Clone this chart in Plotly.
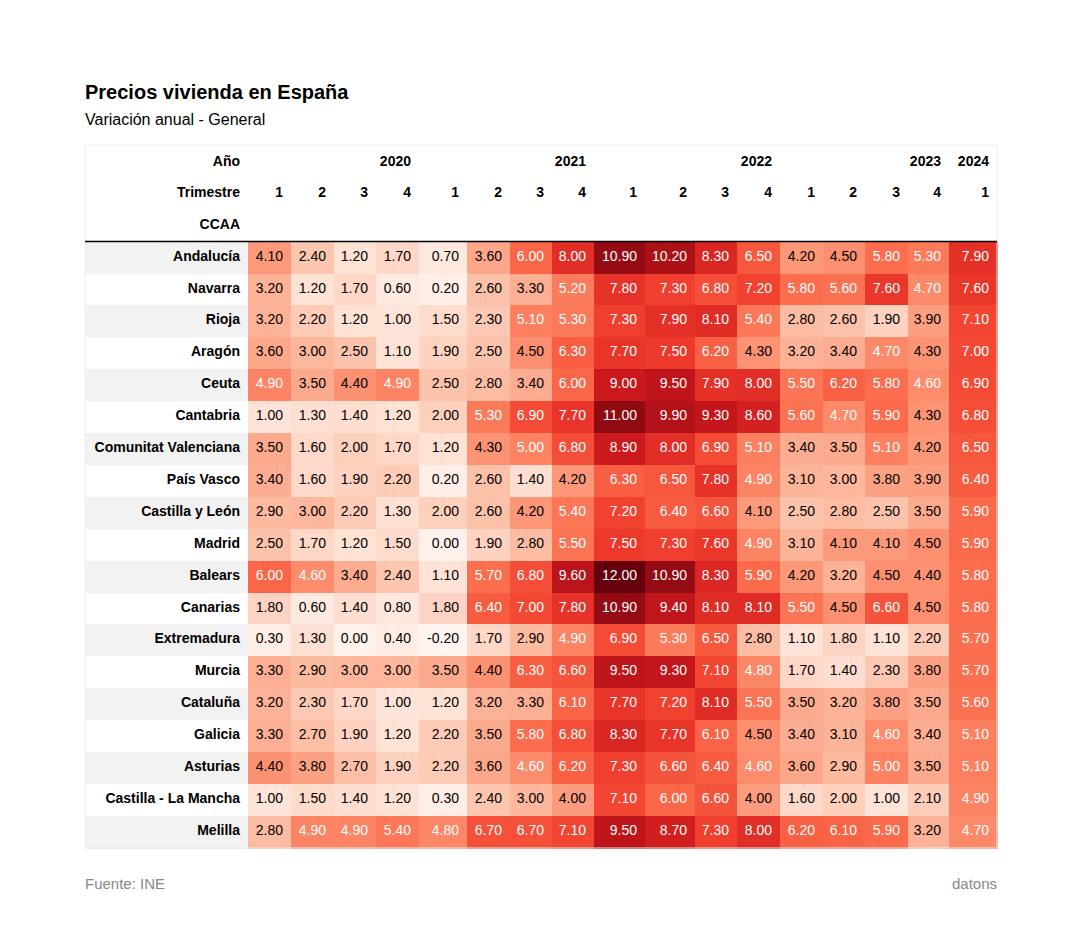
"""
Tabla de calor: variación anual de los precios de la vivienda por CCAA (INE).
"""

import plotly.graph_objects as go
from plotly.colors import sample_colorscale, unlabel_rgb

# Datos
anios = ["2020", "2021", "2022", "2023", "2024"]
trimestres = [1, 2, 3, 4, 1, 2, 3, 4, 1, 2, 3, 4, 1, 2, 3, 4, 1]
anio_col = ["2020"] * 4 + ["2021"] * 4 + ["2022"] * 4 + ["2023"] * 4 + ["2024"]

ccaa = [
    "Andalucía", "Navarra", "Rioja", "Aragón", "Ceuta", "Cantabria",
    "Comunitat Valenciana", "País Vasco", "Castilla y León", "Madrid",
    "Balears", "Canarias", "Extremadura", "Murcia", "Cataluña", "Galicia",
    "Asturias", "Castilla - La Mancha", "Melilla",
]

variacion = [
    [4.1, 2.4, 1.2, 1.7, 0.7, 3.6, 6.0, 8.0, 10.9, 10.2, 8.3, 6.5, 4.2, 4.5, 5.8, 5.3, 7.9],
    [3.2, 1.2, 1.7, 0.6, 0.2, 2.6, 3.3, 5.2, 7.8, 7.3, 6.8, 7.2, 5.8, 5.6, 7.6, 4.7, 7.6],
    [3.2, 2.2, 1.2, 1.0, 1.5, 2.3, 5.1, 5.3, 7.3, 7.9, 8.1, 5.4, 2.8, 2.6, 1.9, 3.9, 7.1],
    [3.6, 3.0, 2.5, 1.1, 1.9, 2.5, 4.5, 6.3, 7.7, 7.5, 6.2, 4.3, 3.2, 3.4, 4.7, 4.3, 7.0],
    [4.9, 3.5, 4.4, 4.9, 2.5, 2.8, 3.4, 6.0, 9.0, 9.5, 7.9, 8.0, 5.5, 6.2, 5.8, 4.6, 6.9],
    [1.0, 1.3, 1.4, 1.2, 2.0, 5.3, 6.9, 7.7, 11.0, 9.9, 9.3, 8.6, 5.6, 4.7, 5.9, 4.3, 6.8],
    [3.5, 1.6, 2.0, 1.7, 1.2, 4.3, 5.0, 6.8, 8.9, 8.0, 6.9, 5.1, 3.4, 3.5, 5.1, 4.2, 6.5],
    [3.4, 1.6, 1.9, 2.2, 0.2, 2.6, 1.4, 4.2, 6.3, 6.5, 7.8, 4.9, 3.1, 3.0, 3.8, 3.9, 6.4],
    [2.9, 3.0, 2.2, 1.3, 2.0, 2.6, 4.2, 5.4, 7.2, 6.4, 6.6, 4.1, 2.5, 2.8, 2.5, 3.5, 5.9],
    [2.5, 1.7, 1.2, 1.5, 0.0, 1.9, 2.8, 5.5, 7.5, 7.3, 7.6, 4.9, 3.1, 4.1, 4.1, 4.5, 5.9],
    [6.0, 4.6, 3.4, 2.4, 1.1, 5.7, 6.8, 9.6, 12.0, 10.9, 8.3, 5.9, 4.2, 3.2, 4.5, 4.4, 5.8],
    [1.8, 0.6, 1.4, 0.8, 1.8, 6.4, 7.0, 7.8, 10.9, 9.4, 8.1, 8.1, 5.5, 4.5, 6.6, 4.5, 5.8],
    [0.3, 1.3, 0.0, 0.4, -0.2, 1.7, 2.9, 4.9, 6.9, 5.3, 6.5, 2.8, 1.1, 1.8, 1.1, 2.2, 5.7],
    [3.3, 2.9, 3.0, 3.0, 3.5, 4.4, 6.3, 6.6, 9.5, 9.3, 7.1, 4.8, 1.7, 1.4, 2.3, 3.8, 5.7],
    [3.2, 2.3, 1.7, 1.0, 1.2, 3.2, 3.3, 6.1, 7.7, 7.2, 8.1, 5.5, 3.5, 3.2, 3.8, 3.5, 5.6],
    [3.3, 2.7, 1.9, 1.2, 2.2, 3.5, 5.8, 6.8, 8.3, 7.7, 6.1, 4.5, 3.4, 3.1, 4.6, 3.4, 5.1],
    [4.4, 3.8, 2.7, 1.9, 2.2, 3.6, 4.6, 6.2, 7.3, 6.6, 6.4, 4.6, 3.6, 2.9, 5.0, 3.5, 5.1],
    [1.0, 1.5, 1.4, 1.2, 0.3, 2.4, 3.0, 4.0, 7.1, 6.0, 6.6, 4.0, 1.6, 2.0, 1.0, 2.1, 4.9],
    [2.8, 4.9, 4.9, 5.4, 4.8, 6.7, 6.7, 7.1, 9.5, 8.7, 7.3, 8.0, 6.2, 6.1, 5.9, 3.2, 4.7],
]

# Dimensiones (px). La página añade 8 px de margen al body.
OFF = 8
W, H = 1080 - 2 * OFF, 931 - 2 * OFF
M_L, M_T = 85 - OFF, 147 - OFF
ANCHO_COLS = [163, 43, 43, 42, 43, 48, 43, 42, 42, 51, 50, 42, 43, 43, 42, 43, 41, 48]
M_R = W - M_L - sum(ANCHO_COLS)
ALTO_HEADER = 31.7
ALTO_FILA = 31.9
M_B = H - M_T - 702
FUENTE = "Liberation Sans, Arial, Helvetica, sans-serif"


def py(pixel_y: float) -> float:
    """Convierte una posición vertical de la página (px) a coordenadas paper."""
    return (H - M_B - (pixel_y - OFF)) / (H - M_T - M_B)


def luminancia(rgb: str) -> float:
    """Luminancia relativa (misma regla que pandas background_gradient)."""
    canales = []
    for c in unlabel_rgb(rgb):
        x = c / 255
        canales.append(x / 12.92 if x <= 0.04045 else ((x + 0.055) / 1.055) ** 2.4)
    r, g, b = canales
    return 0.2126 * r + 0.7152 * g + 0.0722 * b


vmin = min(min(f) for f in variacion)
vmax = max(max(f) for f in variacion)

# Columnas: etiquetas (sin cortes de línea) + una por trimestre
n_cols = len(trimestres)
etiquetas = [c.replace(" ", "\u00a0") for c in ccaa]
columnas = [etiquetas] + [[fila[j] for fila in variacion] for j in range(n_cols)]

relleno = [["#f2f2f2" if i % 2 == 0 else "#ffffff" for i in range(len(ccaa))]]
color_texto = [["#000000"] * len(ccaa)]
for j in range(n_cols):
    norm = [(fila[j] - vmin) / (vmax - vmin) for fila in variacion]
    colores = sample_colorscale("Reds", norm)
    relleno.append(colores)
    color_texto.append(["#ffffff" if luminancia(c) < 0.408 else "#000000" for c in colores])

# Cabecera de tres filas: Año / Trimestre / CCAA
cabecera = [["Año", "Trimestre", "CCAA"]]
for j in range(n_cols):
    ultimo = j == n_cols - 1 or anio_col[j + 1] != anio_col[j]
    cabecera.append([anio_col[j] if ultimo else "", str(trimestres[j]), ""])

fig = go.Figure()
fig.add_trace(
    go.Table(
        columnwidth=ANCHO_COLS,
        header=dict(
            values=cabecera,
            align="right",
            height=ALTO_HEADER,
            fill_color="#ffffff",
            line=dict(color="#ffffff", width=0),
            font=dict(family=FUENTE, size=14, color="#000000", weight="bold"),
        ),
        cells=dict(
            values=columnas,
            format=[""] + [".2f"] * n_cols,
            align="right",
            height=ALTO_FILA,
            fill_color=relleno,
            line=dict(color=relleno, width=1),
            font=dict(family=FUENTE, size=14, color=color_texto,
                      weight=["bold"] + ["normal"] * n_cols),
        ),
    )
)

# Marco tenue y línea negra bajo la cabecera
y_top = 145
y_head = 241.5
y_bottom = 848
fig.add_shape(type="rect", xref="paper", yref="paper", x0=0, x1=1,
              y0=py(y_bottom), y1=py(y_top), line=dict(color="#ececec", width=1))
fig.add_shape(type="line", xref="paper", yref="paper", x0=0, x1=1,
              y0=py(y_head), y1=py(y_head), line=dict(color="#000000", width=1.5))

# Títulos y pie
fig.add_annotation(text="<b>Precios vivienda en España</b>", x=0, y=py(92), xref="paper", yref="paper",
                   xanchor="left", yanchor="middle", showarrow=False, xshift=-2,
                   font=dict(family=FUENTE, size=20, color="#000000"))
fig.add_annotation(text="Variación anual - General", x=0, y=py(120), xref="paper", yref="paper",
                   xanchor="left", yanchor="middle", showarrow=False, xshift=-2,
                   font=dict(family=FUENTE, size=16, color="#000000"))
fig.add_annotation(text="Fuente: INE", x=0, y=py(883), xref="paper", yref="paper",
                   xanchor="left", yanchor="middle", showarrow=False, xshift=-2,
                   font=dict(family=FUENTE, size=15, color="#888888"))
fig.add_annotation(text="datons", x=1, y=py(883), xref="paper", yref="paper",
                   xanchor="right", yanchor="middle", showarrow=False, xshift=2,
                   font=dict(family=FUENTE, size=15, color="#888888"))

fig.update_layout(
    width=W,
    height=H,
    margin=dict(l=M_L, r=M_R, t=M_T, b=M_B),
    paper_bgcolor="#ffffff",
    plot_bgcolor="#ffffff",
)

fig.write_html("out.html")
